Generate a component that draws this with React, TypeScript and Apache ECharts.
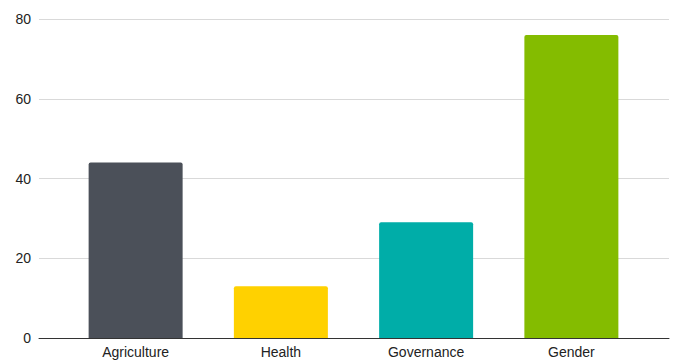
import React, { useEffect, useRef } from "react";
import * as echarts from "echarts";

const categories = ["Agriculture", "Health", "Governance", "Gender"];
const values = [44, 13, 29, 76];
const barColors = ["#4b5059", "#ffd100", "#00ada8", "#84bc00"];
const yTicks = { min: 0, max: 80, interval: 20 };

export default function App() {
  const ref = useRef<HTMLDivElement>(null);
  useEffect(() => {
    if (!ref.current) return;
    const chart = echarts.init(ref.current, undefined, { renderer: "svg" });
    const font = "Liberation Sans, Arial, sans-serif";
    chart.setOption({
      animation: false,
      backgroundColor: "#ffffff",
      grid: [
        { left: 39, right: 8, top: 19, bottom: 22 },
        { left: 63, right: 33, top: 19, bottom: 22 },
      ],
      xAxis: [
        {
          gridIndex: 0,
          type: "category",
          data: categories,
          axisLine: { show: true, lineStyle: { color: "#333333", width: 1 } },
          axisTick: { show: false },
          axisLabel: { show: false },
        },
        {
          gridIndex: 1,
          type: "category",
          data: categories,
          axisLine: { show: false },
          axisTick: { show: false },
          axisLabel: { fontSize: 14, color: "#222222", margin: 7, fontFamily: font },
        },
      ],
      yAxis: [
        {
          gridIndex: 0,
          type: "value",
          min: yTicks.min,
          max: yTicks.max,
          interval: yTicks.interval,
          axisLine: { show: false },
          axisTick: { show: false },
          axisLabel: { fontSize: 14, color: "#222222", margin: 8, fontFamily: font },
          splitLine: { lineStyle: { color: "#d9d9d9", width: 1 } },
        },
        {
          gridIndex: 1,
          type: "value",
          min: yTicks.min,
          max: yTicks.max,
          interval: yTicks.interval,
          show: false,
          splitLine: { show: false },
        },
      ],
      series: [
        {
          type: "bar",
          xAxisIndex: 1,
          yAxisIndex: 1,
          barWidth: 94,
          data: values.map((v, i) => ({
            value: v,
            itemStyle: { color: barColors[i], borderRadius: [2, 2, 0, 0] },
          })),
        },
      ],
    });
    return () => chart.dispose();
  }, []);
  return (
    <div
      ref={ref}
      style={{ position: "fixed", left: 0, top: 0, width: 677, height: 360 }}
    />
  );
}
